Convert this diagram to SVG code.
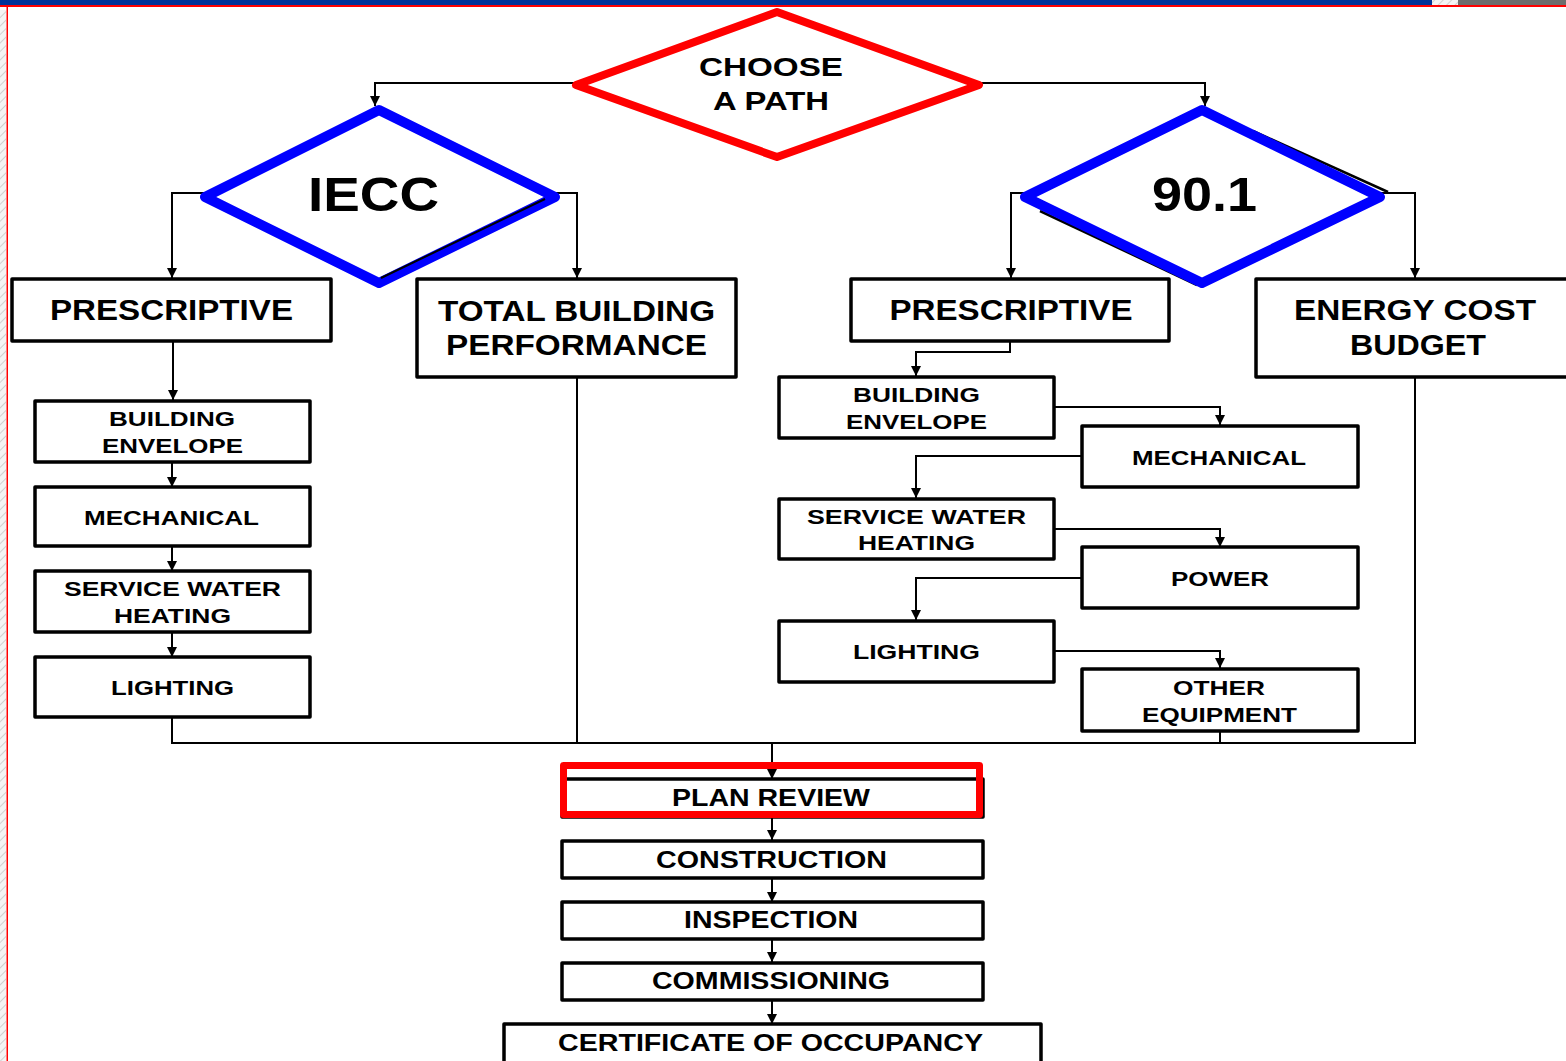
<svg xmlns="http://www.w3.org/2000/svg" width="1566" height="1061" viewBox="0 0 1566 1061">
<defs>
<marker id="arr" viewBox="0 0 10 10" refX="10" refY="5" markerWidth="10" markerHeight="10" markerUnits="userSpaceOnUse" orient="auto">
<path d="M0,0 L10,5 L0,10 z" fill="#000"/>
</marker>
<pattern id="hatch" width="6" height="6" patternUnits="userSpaceOnUse" patternTransform="rotate(45)">
<rect width="6" height="6" fill="#f4f4f4"/>
<line x1="0" y1="0" x2="0" y2="6" stroke="#d0d0d0" stroke-width="2"/>
</pattern>
</defs>
<style>
.box{fill:#fff;stroke:#000;stroke-width:3.5;stroke-linejoin:round}
.con{fill:none;stroke:#000;stroke-width:2}
.ar{marker-end:url(#arr)}
text{font-family:"Liberation Sans",Arial,sans-serif;font-weight:bold;fill:#000;text-anchor:middle}
.t29{font-size:29px}
.t21{font-size:21px}
.t23{font-size:23px}
.t26{font-size:26px}
.t47{font-size:48px}
</style>
<rect x="0" y="0" width="1566" height="1061" fill="#fff"/>
<!-- header / frame -->
<rect x="0" y="0" width="1432" height="5" fill="#003399"/>
<rect x="1432" y="0" width="26" height="5" fill="url(#hatch)"/>
<rect x="1458" y="0" width="108" height="5" fill="#6d6d6d"/>
<rect x="0" y="5" width="1566" height="2" fill="#ff0000"/>
<rect x="0" y="10" width="6" height="1051" fill="url(#hatch)"/>
<rect x="6.5" y="6" width="1.5" height="1055" fill="#ff0000"/>

<g id="connectors">
<path class="con ar" d="M575,83 H375 V106"/>
<path class="con ar" d="M980,83 H1205 V106"/>
<path class="con ar" d="M205,193 H172 V278"/>
<path class="con ar" d="M555,193 H577 V278"/>
<path class="con ar" d="M1025,193 H1011 V278"/>
<path class="con ar" d="M1380,193 H1415 V278"/>
<path class="con ar" d="M173,341 V400"/>
<path class="con ar" d="M172,463 V487"/>
<path class="con ar" d="M172,547 V571"/>
<path class="con ar" d="M172,633 V657"/>
<path class="con ar" d="M1010,341 V352 H916 V376"/>
<path class="con ar" d="M1055,407 H1220 V425"/>
<path class="con ar" d="M1082,456 H916 V498"/>
<path class="con ar" d="M1055,529 H1220 V547"/>
<path class="con ar" d="M1082,578 H916 V620"/>
<path class="con ar" d="M1055,651 H1220 V668"/>
<path class="con" d="M172,717 V743 H1415 V377"/>
<path class="con" d="M577,377 V743"/>
<path class="con" d="M1220,732 V743"/>
<path class="con ar" d="M772,743 V779"/>
<path class="con ar" d="M772,817 V840"/>
<path class="con ar" d="M772,878 V902"/>
<path class="con ar" d="M772,939 V962"/>
<path class="con ar" d="M772,1000 V1024"/>
</g>

<g id="choose">
<polygon points="777,12 979,85 777,157 576,85" fill="#fff" stroke="#ff0000" stroke-width="8" stroke-linejoin="round"/>
<text class="t26" x="771" y="76" textLength="144" lengthAdjust="spacingAndGlyphs">CHOOSE</text>
<text class="t26" x="771" y="110" textLength="116" lengthAdjust="spacingAndGlyphs">A PATH</text>
</g>

<g id="iecc">
<polygon points="379,110 555,197 379,283 205,197" fill="#fff" stroke="#0000ff" stroke-width="10" stroke-linejoin="round"/>
<line x1="545" y1="199" x2="381" y2="278" stroke="#000" stroke-width="2"/>
<text class="t47" x="373.5" y="211" textLength="131" lengthAdjust="spacingAndGlyphs">IECC</text>
</g>

<g id="ashrae">
<line x1="1253" y1="131" x2="1388" y2="192" stroke="#000" stroke-width="2.5"/>
<line x1="1040" y1="211" x2="1197" y2="285" stroke="#000" stroke-width="2.5"/>
<polygon points="1202,110 1380,197 1202,283 1025,197" fill="#fff" stroke="#0000ff" stroke-width="10" stroke-linejoin="round"/>
<text class="t47" x="1204.5" y="211" textLength="105" lengthAdjust="spacingAndGlyphs">90.1</text>
</g>

<g id="iecc-prescriptive">
<rect class="box" x="12" y="279" width="319" height="62"/>
<text class="t29" x="171.5" y="320" textLength="243" lengthAdjust="spacingAndGlyphs">PRESCRIPTIVE</text>
</g>
<g id="total-building">
<rect class="box" x="417" y="279" width="319" height="98"/>
<text class="t29" x="576.5" y="321" textLength="277" lengthAdjust="spacingAndGlyphs">TOTAL BUILDING</text>
<text class="t29" x="576.5" y="355" textLength="261" lengthAdjust="spacingAndGlyphs">PERFORMANCE</text>
</g>
<g id="ashrae-prescriptive">
<rect class="box" x="851" y="279" width="318" height="62"/>
<text class="t29" x="1011" y="320" textLength="243" lengthAdjust="spacingAndGlyphs">PRESCRIPTIVE</text>
</g>
<g id="energy-cost">
<rect class="box" x="1256" y="279" width="320" height="98"/>
<text class="t29" x="1415" y="320" textLength="242" lengthAdjust="spacingAndGlyphs">ENERGY COST</text>
<text class="t29" x="1418" y="355" textLength="136" lengthAdjust="spacingAndGlyphs">BUDGET</text>
</g>

<g id="l-envelope">
<rect class="box" x="35" y="401" width="275" height="61"/>
<text class="t21" x="172" y="426" textLength="126" lengthAdjust="spacingAndGlyphs">BUILDING</text>
<text class="t21" x="172.5" y="453" textLength="141" lengthAdjust="spacingAndGlyphs">ENVELOPE</text>
</g>
<g id="l-mechanical">
<rect class="box" x="35" y="487" width="275" height="59"/>
<text class="t21" x="171.5" y="525" textLength="175" lengthAdjust="spacingAndGlyphs">MECHANICAL</text>
</g>
<g id="l-swh">
<rect class="box" x="35" y="571" width="275" height="61"/>
<text class="t21" x="172.5" y="596" textLength="217" lengthAdjust="spacingAndGlyphs">SERVICE WATER</text>
<text class="t21" x="172.5" y="623" textLength="117" lengthAdjust="spacingAndGlyphs">HEATING</text>
</g>
<g id="l-lighting">
<rect class="box" x="35" y="657" width="275" height="60"/>
<text class="t21" x="172.5" y="695" textLength="123" lengthAdjust="spacingAndGlyphs">LIGHTING</text>
</g>

<g id="r-envelope">
<rect class="box" x="779" y="377" width="275" height="61"/>
<text class="t21" x="916.5" y="402" textLength="127" lengthAdjust="spacingAndGlyphs">BUILDING</text>
<text class="t21" x="916.5" y="429" textLength="141" lengthAdjust="spacingAndGlyphs">ENVELOPE</text>
</g>
<g id="r-mechanical">
<rect class="box" x="1082" y="426" width="276" height="61"/>
<text class="t21" x="1219" y="465" textLength="174" lengthAdjust="spacingAndGlyphs">MECHANICAL</text>
</g>
<g id="r-swh">
<rect class="box" x="779" y="499" width="275" height="60"/>
<text class="t21" x="916.5" y="524" textLength="219" lengthAdjust="spacingAndGlyphs">SERVICE WATER</text>
<text class="t21" x="916.5" y="550" textLength="117" lengthAdjust="spacingAndGlyphs">HEATING</text>
</g>
<g id="r-power">
<rect class="box" x="1082" y="547" width="276" height="61"/>
<text class="t21" x="1220" y="586" textLength="98" lengthAdjust="spacingAndGlyphs">POWER</text>
</g>
<g id="r-lighting">
<rect class="box" x="779" y="621" width="275" height="61"/>
<text class="t21" x="916.5" y="659" textLength="127" lengthAdjust="spacingAndGlyphs">LIGHTING</text>
</g>
<g id="r-other">
<rect class="box" x="1082" y="669" width="276" height="62"/>
<text class="t21" x="1219" y="695" textLength="92" lengthAdjust="spacingAndGlyphs">OTHER</text>
<text class="t21" x="1219.5" y="722" textLength="155" lengthAdjust="spacingAndGlyphs">EQUIPMENT</text>
</g>

<g id="plan-review">
<rect class="box" x="562" y="779" width="421" height="38"/>
<rect x="563.5" y="765.5" width="416" height="49" fill="none" stroke="#ff0000" stroke-width="7" stroke-linejoin="round"/>
<text class="t23" x="771" y="806" textLength="198" lengthAdjust="spacingAndGlyphs">PLAN REVIEW</text>
</g>
<g id="construction">
<rect class="box" x="562" y="841" width="421" height="37"/>
<text class="t23" x="771.5" y="868" textLength="231" lengthAdjust="spacingAndGlyphs">CONSTRUCTION</text>
</g>
<g id="inspection">
<rect class="box" x="562" y="902" width="421" height="37"/>
<text class="t23" x="771" y="928" textLength="174" lengthAdjust="spacingAndGlyphs">INSPECTION</text>
</g>
<g id="commissioning">
<rect class="box" x="562" y="963" width="421" height="37"/>
<text class="t23" x="771" y="989" textLength="238" lengthAdjust="spacingAndGlyphs">COMMISSIONING</text>
</g>
<g id="certificate">
<rect class="box" x="504" y="1024" width="537" height="45"/>
<text class="t23" x="770.5" y="1051" textLength="425" lengthAdjust="spacingAndGlyphs">CERTIFICATE OF OCCUPANCY</text>
</g>
</svg>
